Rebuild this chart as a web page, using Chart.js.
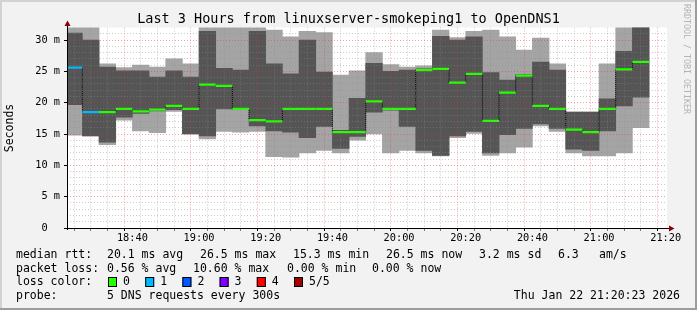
<!DOCTYPE html>
<html>
<head>
<meta charset="utf-8">
<title>Last 3 Hours from linuxserver-smokeping1 to OpenDNS1</title>
<script src="https://cdn.jsdelivr.net/npm/chart.js@4.4.0/dist/chart.umd.min.js"></script>
<style>
  html, body { margin: 0; padding: 0; background: #f2f2f2; }
  canvas { display: block; }
</style>
</head>
<body>
<canvas id="smokeChart" width="697" height="310"></canvas>
<script>
// start of each 5 minute bin
const binStarts = ['18:20', '18:25', '18:30', '18:35', '18:40', '18:45', '18:50', '18:55',
  '19:00', '19:05', '19:10', '19:15', '19:20', '19:25', '19:30', '19:35', '19:40', '19:45',
  '19:50', '19:55', '20:00', '20:05', '20:10', '20:15', '20:20', '20:25', '20:30', '20:35',
  '20:40', '20:45', '20:50', '20:55', '21:00', '21:05', '21:10'];

// rtt in ms: outer smoke (light), inner smoke (dark), median
const smokeMin  = [14.8, 14.7, 13.3, 17.2, 15.5, 15.2, 18.6, 15.0, 14.2, 15.4, 15.3, 15.4, 11.4, 11.3, 12.0, 12.4, 12.0, 14.0,
  15.0, 12.0, 12.4, 12.0, 11.5, 14.4, 15.1, 11.6, 12.0, 12.9, 16.3, 15.4, 12.0, 11.5, 11.5, 12.0, 16.0];
const smokeLow  = [19.7, 14.7, 13.7, 17.7, 18.3, 18.7, 18.9, 15.0, 14.7, 19.0, 18.9, 16.3, 15.5, 15.3, 14.4, 16.2, 12.7, 14.6,
  18.5, 18.8, 16.2, 12.4, 11.6, 14.7, 15.4, 12.0, 14.9, 15.9, 16.6, 15.9, 12.6, 12.4, 15.5, 19.5, 20.9];
const medianRtt = [25.6, 18.5, 18.5, 19.0, 18.6, 18.9, 19.5, 19.0, 22.9, 22.7, 19.0, 17.2, 17.0, 19.0, 19.0, 19.0, 15.3, 15.3,
  20.2, 19.0, 19.0, 25.2, 25.4, 23.2, 24.6, 17.1, 21.6, 24.3, 19.5, 19.0, 15.7, 15.3, 19.0, 25.3, 26.5];
const smokeHigh = [31.1, 30.0, 25.7, 25.1, 25.1, 24.1, 25.1, 24.1, 31.4, 25.5, 25.2, 31.4, 26.2, 24.6, 30.0, 24.9, 15.6, 20.7,
  26.3, 25.0, 25.2, 25.4, 30.6, 30.0, 30.5, 24.8, 23.6, 24.5, 26.5, 25.2, 18.5, 18.5, 20.6, 28.2, 33.5];
const smokeMax  = [33.5, 33.5, 26.2, 25.6, 26.0, 25.7, 27.0, 26.2, 33.5, 33.5, 33.5, 33.5, 31.6, 30.5, 31.4, 31.2, 24.4, 25.1,
  28.0, 26.1, 25.7, 25.9, 31.6, 30.4, 31.4, 31.6, 30.5, 28.4, 30.3, 26.2, 18.5, 18.5, 26.2, 33.5, 34.0];
// lost pings per bin (out of 5)
const lossCount = [1, 1, 0, 0, 0, 0, 0, 0, 0, 0, 0, 0, 0, 0, 0, 0, 0, 0,
  0, 0, 0, 0, 0, 0, 0, 0, 0, 0, 0, 0, 0, 0, 0, 0, 0];

const lossLabels = ['0', '1', '2', '3', '4', '5/5'];
const lossColors = ['#26ff00', '#00b8ff', '#0059ff', '#7e00ff', '#ff0000', '#a00000'];

const xTickLabels = ['18:40', '19:00', '19:20', '19:40', '20:00', '20:20', '20:40', '21:00', '21:20'];
const yTickLabels = ['0  ', '5 m', '10 m', '15 m', '20 m', '25 m', '30 m'];

const toMin = s => { const p = s.split(':').map(Number); return p[0] * 60 + p[1]; };
const windowStart = toMin('18:20') + 23 / 60;
const windowEnd = windowStart + 180;
const centers = binStarts.map(s => toMin(s) + 2.5);
const medHalf = 0.18;

const mono = '"DejaVu Sans Mono", "Liberation Mono", monospace';
Chart.defaults.font.family = mono;
Chart.defaults.color = '#000';

const gridMinor = 'rgba(140,140,140,0.45)';
const gridMajor = 'rgba(225,50,50,0.45)';

const rrdFrame = {
  id: 'rrdFrame',
  beforeDraw(chart) {
    const { ctx, chartArea: a } = chart;
    ctx.save();
    ctx.fillStyle = '#f2f2f2';
    ctx.fillRect(0, 0, chart.width, chart.height);
    ctx.fillStyle = '#ffffff';
    ctx.fillRect(a.left, a.top, a.right - a.left, a.bottom - a.top);
    ctx.restore();
  },
  afterDraw(chart) {
    const { ctx, chartArea: a } = chart;
    ctx.save();
    // axes
    ctx.strokeStyle = '#000';
    ctx.lineWidth = 1;
    ctx.beginPath();
    ctx.moveTo(a.left + 0.5, a.bottom + 2);
    ctx.lineTo(a.left + 0.5, a.top - 2);
    ctx.moveTo(a.left - 3, a.bottom + 0.5);
    ctx.lineTo(a.right + 3, a.bottom + 0.5);
    ctx.stroke();
    // arrows
    ctx.fillStyle = '#8b0000';
    ctx.beginPath();
    ctx.moveTo(a.left - 2.5, a.top - 1.5);
    ctx.lineTo(a.left + 3.5, a.top - 1.5);
    ctx.lineTo(a.left + 0.5, a.top - 7);
    ctx.closePath();
    ctx.fill();
    ctx.beginPath();
    ctx.moveTo(a.right + 2, a.bottom - 2.5);
    ctx.lineTo(a.right + 2, a.bottom + 3.5);
    ctx.lineTo(a.right + 7.5, a.bottom + 0.5);
    ctx.closePath();
    ctx.fill();

    const txt = (s, x, y, align, font) => {
      ctx.font = font || ('11.5px ' + mono);
      ctx.textAlign = align || 'left';
      ctx.textBaseline = 'middle';
      ctx.fillStyle = '#000';
      ctx.fillText(s, x, y);
    };
    // title
    txt('Last 3 Hours from linuxserver-smokeping1 to OpenDNS1', 348.5, 19, 'center', '13.5px ' + mono);
    // y title
    ctx.save();
    ctx.translate(10.5, 128);
    ctx.rotate(-Math.PI / 2);
    txt('Seconds', 0, 0, 'center', '11.5px ' + mono);
    ctx.restore();
    // watermark
    ctx.save();
    ctx.translate(686.5, 4);
    ctx.rotate(Math.PI / 2);
    ctx.font = '8.3px ' + mono;
    ctx.textAlign = 'left';
    ctx.textBaseline = 'middle';
    ctx.fillStyle = '#b4b4b4';
    ctx.fillText('RRDTOOL / TOBI OETIKER', 0, 0);
    ctx.restore();

    // legend
    const l1 = [[16, 'median rtt:'], [107, '20.1 ms avg'], [200, '26.5 ms max'], [293, '15.3 ms min'],
      [386, '26.5 ms now'], [479, '3.2 ms sd'], [558, '6.3'], [599, 'am/s']];
    l1.forEach(p => txt(p[1], p[0], 255));
    const l2 = [[16, 'packet loss:'], [107, '0.56 % avg'], [193, '10.60 % max'], [287, '0.00 % min'], [372, '0.00 % now']];
    l2.forEach(p => txt(p[1], p[0], 269));
    txt('loss color:', 16, 282.5);
    lossLabels.forEach((lab, i) => {
      const bx = 108 + i * 37.2;
      ctx.fillStyle = lossColors[i];
      ctx.fillRect(bx, 277, 9, 10);
      ctx.strokeStyle = '#000';
      ctx.strokeRect(bx + 0.5, 277.5, 8, 9);
      txt(lab, bx + 15, 282.5);
    });
    txt('probe:', 16, 296.5);
    txt('5 DNS requests every 300s', 107, 296.5);
    txt('Thu Jan 22 21:20:23 2026', 680, 296.5, 'right');

    // 3d border
    ctx.fillStyle = '#d2d2d2';
    ctx.fillRect(0, 0, chart.width, 2);
    ctx.fillRect(0, 0, 2, chart.height);
    ctx.fillStyle = '#9c9c9c';
    ctx.fillRect(chart.width - 2, 0, 2, chart.height);
    ctx.fillRect(0, chart.height - 2, chart.width, 2);
    ctx.restore();
  }
};

const range = (lo, hi) => centers.map((x, i) => ({ x: x, y: [lo[i], hi[i]] }));

new Chart(document.getElementById('smokeChart'), {
  type: 'bar',
  data: {
    datasets: [{
      label: 'outer smoke',
      data: range(smokeMin, smokeMax),
      backgroundColor: '#a4a4a4',
      order: 3
    }, {
      label: 'inner smoke',
      data: range(smokeLow, smokeHigh),
      backgroundColor: '#555555',
      order: 2
    }, {
      type: 'line',
      label: 'median step',
      data: centers.map((x, i) => ({ x: x, y: medianRtt[i] })),
      stepped: 'middle',
      borderColor: '#000',
      borderWidth: 1,
      borderDash: [1, 1],
      pointRadius: 0,
      order: 1
    }, {
      label: 'median rtt',
      data: centers.map((x, i) => ({ x: x, y: [medianRtt[i] - medHalf, medianRtt[i] + medHalf] })),
      backgroundColor: lossCount.map(c => lossColors[c]),
      inflateAmount: 0,
      order: 0
    }]
  },
  options: {
    responsive: false,
    animation: false,
    layout: { padding: { top: 27.5, right: 30, left: 0, bottom: 0 } },
    datasets: {
      bar: { grouped: false, barPercentage: 1, categoryPercentage: 1, borderWidth: 0 }
    },
    plugins: {
      legend: { display: false },
      tooltip: { enabled: false }
    },
    scales: {
      x: {
        type: 'linear',
        min: windowStart,
        max: windowEnd,
        offset: false,
        afterBuildTicks: scale => {
          const t = [];
          for (let m = toMin('18:25'); m <= windowEnd; m += 5) t.push({ value: m });
          scale.ticks = t;
        },
        afterFit: scale => { scale.height = 82; },
        ticks: {
          autoSkip: false,
          maxRotation: 0,
          padding: 1,
          font: { size: 10.3 },
          callback: v => {
            const hh = Math.floor(v / 60), mm = v % 60;
            const s = String(hh).padStart(2, '0') + ':' + String(mm).padStart(2, '0');
            return xTickLabels.includes(s) ? s : '';
          }
        },
        grid: {
          z: 1,
          lineWidth: 1,
          tickLength: 3,
          color: c => (c.tick && c.tick.value % 20 === 0) ? gridMajor : gridMinor,
          tickColor: c => (c.tick && c.tick.value % 20 === 0) ? '#000' : 'rgba(0,0,0,0.5)'
        },
        border: { display: false, dash: [1, 2] }
      },
      y: {
        min: 0,
        max: 32,
        afterBuildTicks: scale => { scale.ticks = scale.ticks.filter(t => t.value <= 31); },
        afterFit: scale => { scale.width = 67; },
        ticks: {
          stepSize: 1,
          autoSkip: false,
          padding: 4,
          font: { size: 10.3 },
          callback: v => (v % 5 === 0 ? yTickLabels[v / 5] : '')
        },
        grid: {
          z: 1,
          lineWidth: 1,
          tickLength: 3,
          color: c => {
            const v = c.tick ? c.tick.value : 1;
            if (v === 0) return 'rgba(0,0,0,0)';
            return v % 5 === 0 ? gridMajor : gridMinor;
          },
          tickColor: c => (c.tick && c.tick.value % 5 === 0) ? '#000' : 'rgba(0,0,0,0)'
        },
        border: { display: false, dash: [1, 2] }
      }
    }
  },
  plugins: [rrdFrame]
});
</script>
</body>
</html>
